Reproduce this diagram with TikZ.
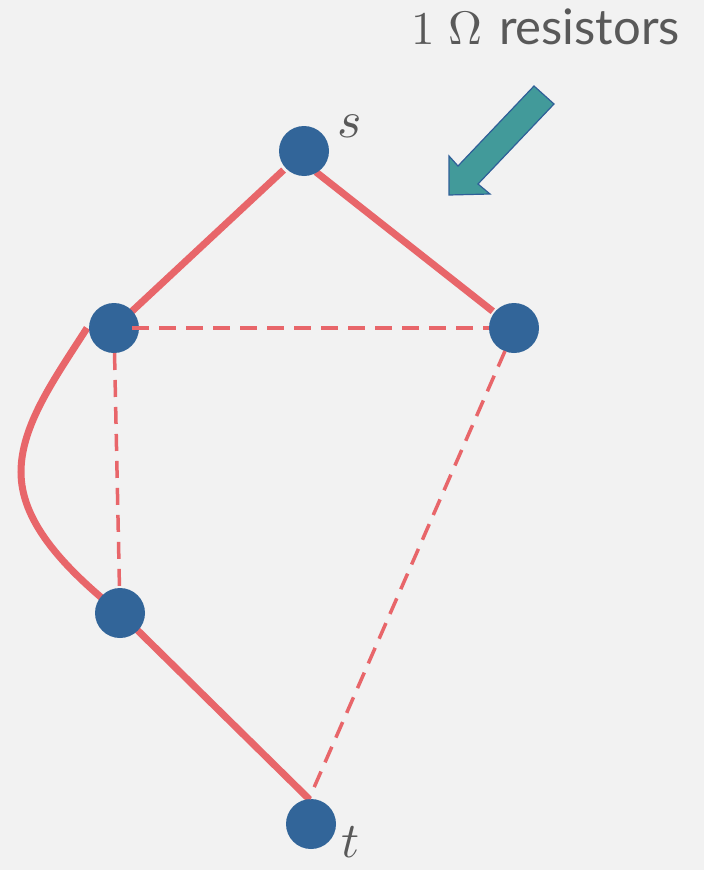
\documentclass[tikz,border=0pt]{standalone}
\usepackage{unicode-math}
\newfontfamily\labelfont{Lato}
\usetikzlibrary{calc}
\definecolor{bg}{HTML}{F2F2F2}
\definecolor{vert}{HTML}{326599}
\definecolor{wire}{HTML}{E8666A}
\definecolor{tealfill}{HTML}{429A9A}
\definecolor{tealedge}{HTML}{2F5F98}
\definecolor{txt}{HTML}{595959}
\begin{document}
\begin{tikzpicture}[x=1pt,y=-1pt,
  vtx/.style={circle,fill=vert,draw=none,minimum size=50pt,inner sep=0pt,outer sep=0pt},
  solidwire/.style={draw=wire,line width=7pt},
  dashwire/.style={draw=wire,line width=3.5pt,dash pattern=on 17pt off 10pt},
  lbl/.style={text=txt,inner sep=0pt,outer sep=0pt}]
\useasboundingbox[fill=bg] (0,0) rectangle (704,870);

\coordinate (sc) at (304,151);
\coordinate (Ac) at (114,328);
\coordinate (Bc) at (514,328);
\coordinate (Cc) at (120,613);
\coordinate (tc) at (311,824);

% solid wires (under the vertices)
\draw[solidwire,shorten <=28pt,shorten >=15pt] (sc) -- (Ac);
\draw[solidwire,shorten >=27pt] ($(sc)+(12,21)$) -- (Bc);
\draw[solidwire] (Cc) -- ($(tc)+(-2,-25)$);
\draw[solidwire] ($(Ac)+(-27,0)$) .. controls (55,378) and (21,425) .. (21,472)
      .. controls (21,520) and (60,565) .. (Cc);

% vertices
\node[vtx] (s) at (sc) {};
\node[vtx] (A) at (Ac) {};
\node[vtx] (B) at (Bc) {};
\node[vtx] (C) at (Cc) {};
\node[vtx] (t) at (tc) {};

% dashed wires
\draw[dashwire,shorten <=18pt,shorten >=25pt] (A.center) -- (B.center);
\draw[dashwire,shorten <=25pt,shorten >=25pt] (A.center) -- (C.center);
\draw[dashwire] ($(B.center)+(-9,23)$) -- ($(t.center)+(-2,-25)$);

% labels
\node[lbl,anchor=base] (ls) at (350,137) {\fontsize{52}{60}\selectfont $s$};
\node[lbl,anchor=base] (lt) at (351,857) {\fontsize{50}{58}\selectfont $t$};
\node[lbl,anchor=base west] (ohm) at (411,44) {\fontsize{47}{54}\selectfont $1\ \Omega$};
\node[lbl,anchor=base west] (res) at (499,44) {\fontsize{49}{56}\selectfont\labelfont resistors};

% block arrow
\filldraw[fill=tealfill,draw=tealedge,line width=1.2pt,line join=miter]
  (534,86) -- (554,104) -- (478,184) -- (490,194) -- (449,195) -- (449,156) -- (458,166) -- cycle;
\end{tikzpicture}
\end{document}
